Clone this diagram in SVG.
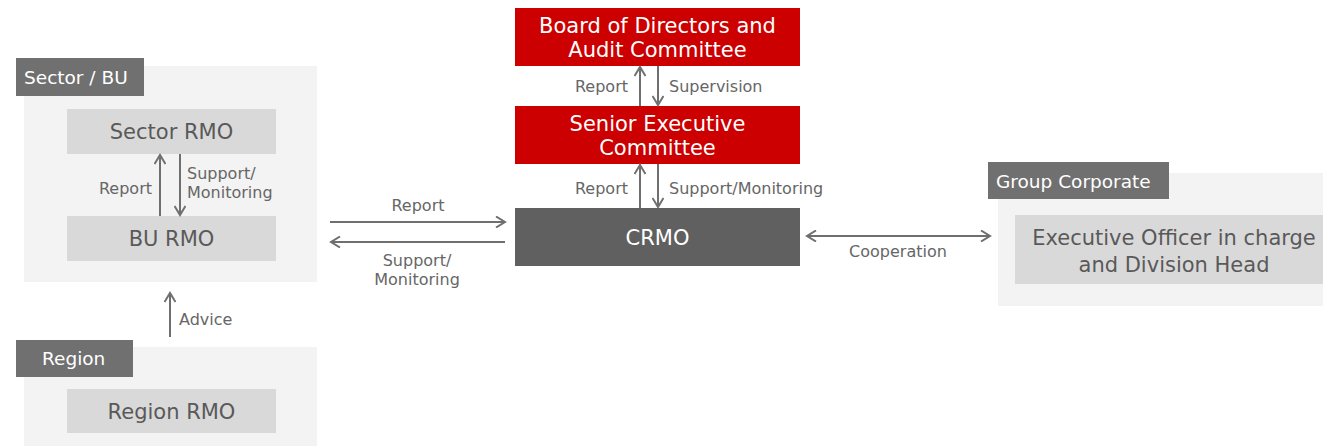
<svg xmlns="http://www.w3.org/2000/svg" width="1323" height="446" viewBox="0 0 1323 446">
<defs>
<marker id="ah" viewBox="0 0 12 12" refX="10" refY="6" markerWidth="12" markerHeight="12" markerUnits="userSpaceOnUse" orient="auto-start-reverse">
<path d="M1,0.5 L10,6 L1,11.5" fill="none" stroke="#6f6f6f" stroke-width="2"/>
</marker>
</defs>
<style>
text{font-family:"DejaVu Sans","Liberation Sans",sans-serif}
.panel{fill:#f3f3f3}
.hdr{fill:#707070}
.hdrt{fill:#ffffff;font-size:18.5px}
.box{fill:#d9d9d9}
.boxt{fill:#595959;font-size:21px;text-anchor:middle}
.red{fill:#cc0000}
.redt{fill:#ffffff;font-size:21px;text-anchor:middle}
.dark{fill:#606060}
.lbl{fill:#666666;font-size:16px}
.ln{stroke:#6f6f6f;stroke-width:2;fill:none}
</style>

<g id="sector-bu">
<rect class="panel" x="24" y="66" width="293" height="216"/>
<rect class="hdr" x="16" y="58" width="128" height="38"/>
<text class="hdrt" x="24" y="84">Sector / BU</text>
</g>
<g id="sector-rmo">
<rect class="box" x="67" y="109" width="209" height="45"/>
<text class="boxt" x="171.5" y="139">Sector RMO</text>
</g>
<g id="bu-rmo">
<rect class="box" x="67" y="216" width="209" height="45"/>
<text class="boxt" x="171.5" y="246">BU RMO</text>
</g>

<g id="region">
<rect class="panel" x="24" y="347" width="293" height="99"/>
<rect class="hdr" x="16" y="340" width="117" height="37"/>
<text class="hdrt" x="42" y="365">Region</text>
</g>
<g id="region-rmo">
<rect class="box" x="67" y="389" width="209" height="44"/>
<text class="boxt" x="171.5" y="419">Region RMO</text>
</g>

<g id="board">
<rect class="red" x="515" y="8" width="285" height="58"/>
<text class="redt" x="657.5" y="33">Board of Directors and</text>
<text class="redt" x="657.5" y="57">Audit Committee</text>
</g>
<g id="senior-exec">
<rect class="red" x="515" y="106" width="285" height="58"/>
<text class="redt" x="657.5" y="131">Senior Executive</text>
<text class="redt" x="657.5" y="155">Committee</text>
</g>
<g id="crmo">
<rect class="dark" x="515" y="208" width="285" height="58"/>
<text class="redt" x="657.5" y="245">CRMO</text>
</g>

<g id="group-corporate">
<rect class="panel" x="998" y="173" width="325" height="133"/>
<rect class="hdr" x="988" y="162" width="181" height="37"/>
<text class="hdrt" x="996" y="188">Group Corporate</text>
</g>
<g id="exec-officer">
<rect class="box" x="1015" y="215" width="308" height="69"/>
<text class="boxt" x="1174" y="245">Executive Officer in charge</text>
<text class="boxt" x="1174" y="272">and Division Head</text>
</g>

<g id="connectors">
<line class="ln" x1="160" y1="216" x2="160" y2="155" marker-end="url(#ah)"/>
<line class="ln" x1="180" y1="154" x2="180" y2="215" marker-end="url(#ah)"/>
<text class="lbl" x="152" y="194" text-anchor="end">Report</text>
<text class="lbl" x="187" y="179">Support/</text>
<text class="lbl" x="187" y="198">Monitoring</text>

<line class="ln" x1="170" y1="337" x2="170" y2="293" marker-end="url(#ah)"/>
<text class="lbl" x="179" y="325">Advice</text>

<line class="ln" x1="640" y1="106" x2="640" y2="67" marker-end="url(#ah)"/>
<line class="ln" x1="658" y1="66" x2="658" y2="105" marker-end="url(#ah)"/>
<text class="lbl" x="628" y="92" text-anchor="end">Report</text>
<text class="lbl" x="669" y="92">Supervision</text>

<line class="ln" x1="640" y1="208" x2="640" y2="165" marker-end="url(#ah)"/>
<line class="ln" x1="658" y1="164" x2="658" y2="207" marker-end="url(#ah)"/>
<text class="lbl" x="628" y="194" text-anchor="end">Report</text>
<text class="lbl" x="669" y="194">Support/Monitoring</text>

<line class="ln" x1="330" y1="222" x2="505" y2="222" marker-end="url(#ah)"/>
<line class="ln" x1="505" y1="242" x2="331" y2="242" marker-end="url(#ah)"/>
<text class="lbl" x="418" y="211" text-anchor="middle">Report</text>
<text class="lbl" x="417" y="266" text-anchor="middle">Support/</text>
<text class="lbl" x="417" y="285" text-anchor="middle">Monitoring</text>

<line class="ln" x1="807" y1="236" x2="990" y2="236" marker-start="url(#ah)" marker-end="url(#ah)"/>
<text class="lbl" x="898" y="257" text-anchor="middle">Cooperation</text>
</g>
</svg>
